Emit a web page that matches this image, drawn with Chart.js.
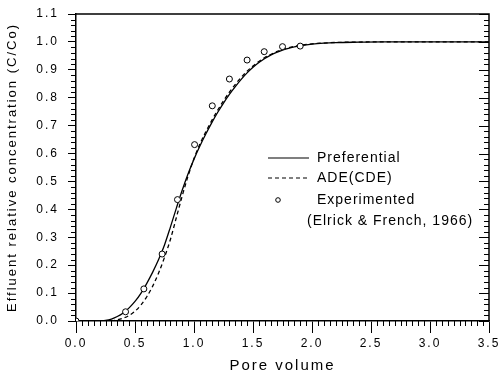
<!DOCTYPE html>
<html>
<head>
<meta charset="utf-8">
<script src="https://cdn.jsdelivr.net/npm/chart.js@4/dist/chart.umd.min.js"></script>
<style>
  html, body { margin: 0; padding: 0; background: #fff; }
  #wrap { width: 500px; height: 383px; }
</style>
</head>
<body>
<div id="wrap"><canvas id="grafico"></canvas></div>
<script>
// experimental points (Elrick & French, 1966)
const expX = [0, 0.42, 0.575, 0.73, 0.86, 1.005, 1.155, 1.30, 1.45, 1.595, 1.75, 1.90];
const expY = [0, 0.033, 0.115, 0.24, 0.435, 0.632, 0.771, 0.867, 0.935, 0.965, 0.983, 0.985];

// preferential flow model (solid)
const prefX = [0, 0.2, 0.25, 0.3, 0.35, 0.4, 0.45, 0.5, 0.55, 0.6, 0.65, 0.7, 0.75, 0.8, 0.85, 0.9, 0.95, 1.0,
               1.05, 1.1, 1.15, 1.2, 1.25, 1.3, 1.35, 1.4, 1.45, 1.5, 1.55, 1.6, 1.65, 1.7, 1.75, 1.8, 1.85, 1.9,
               2.0, 2.1, 2.2, 2.4, 2.6, 3.0, 3.5];
const prefY = [0, 0, 0.002, 0.007, 0.016, 0.029, 0.047, 0.070, 0.099, 0.135, 0.175, 0.220, 0.2725, 0.3365, 0.4035, 0.4685, 0.5275, 0.58,
               0.627, 0.670, 0.710, 0.747, 0.781, 0.812, 0.840, 0.866, 0.889, 0.909, 0.926, 0.9405, 0.9525, 0.9625, 0.9705, 0.977, 0.982, 0.986,
               0.992, 0.9955, 0.9975, 0.999, 1.0, 1.0, 1.0];

// ADE(CDE) model (dashed)
const adeX = [0, 0.25, 0.3, 0.35, 0.4, 0.45, 0.5, 0.55, 0.6, 0.65, 0.7, 0.75, 0.8, 0.85, 0.9, 0.95, 1.0,
              1.05, 1.1, 1.15, 1.2, 1.25, 1.3, 1.35, 1.4, 1.45, 1.5, 1.55, 1.6, 1.65, 1.7, 1.75, 1.8, 1.85, 1.9,
              2.0, 2.1, 2.2, 2.4, 2.6, 3.0, 3.5];
const adeY = [0, 0, 0.001, 0.004, 0.010, 0.020, 0.035, 0.057, 0.087, 0.125, 0.172, 0.228, 0.292, 0.37, 0.448, 0.52, 0.582,
              0.634, 0.678, 0.718, 0.755, 0.789, 0.82, 0.848, 0.873, 0.895, 0.914, 0.93, 0.944, 0.955, 0.965, 0.973, 0.979, 0.984, 0.988,
              0.993, 0.996, 0.998, 0.9995, 1.0, 1.0, 1.0];

const legendItems = ['Preferential', 'ADE(CDE)', 'Experimented', '(Elrick & French, 1966)'];

const FONT = "'Liberation Sans', Arial, sans-serif";

function pontos(xs, ys) {
    return xs.map((x, i) => ({ x: x, y: ys[i] }));
}

const extras = {
    id: 'extras',
    beforeLayout(chart) {
        chart.ctx.letterSpacing = '2px';
    },
    beforeDraw(chart) {
        chart.ctx.letterSpacing = '2px';
    },
    afterDraw(chart) {
        const ctx = chart.ctx;
        const xs = chart.scales.x;
        const ys = chart.scales.y;
        const a = chart.chartArea;
        ctx.save();
        ctx.strokeStyle = '#000';
        ctx.lineWidth = 1.5;
        // moldura de cima e da direita
        ctx.beginPath();
        ctx.moveTo(a.left, a.top);
        ctx.lineTo(a.right, a.top);
        ctx.lineTo(a.right, a.bottom);
        ctx.stroke();

        ctx.lineWidth = 1;
        ctx.beginPath();
        // x minor ticks, para fora
        for (let i = 0; i <= 70; i++) {
            if (i % 10 === 0) continue;
            const px = Math.round(xs.getPixelForValue(i * 0.05)) + 0.5;
            ctx.moveTo(px, a.bottom);
            ctx.lineTo(px, a.bottom + 5);
        }
        // y minor ticks: esquerda para fora, direita para dentro
        for (let i = 0; i <= 55; i++) {
            const py = Math.round(ys.getPixelForValue(i * 0.02)) + 0.5;
            const major = i % 5 === 0;
            if (!major) {
                ctx.moveTo(a.left, py);
                ctx.lineTo(a.left - 5, py);
            }
            ctx.moveTo(a.right, py);
            ctx.lineTo(a.right - (major ? 10 : 5), py);
        }
        ctx.stroke();

        // legenda
        ctx.letterSpacing = '1px';
        ctx.font = '14px ' + FONT;
        ctx.fillStyle = '#000';
        ctx.textBaseline = 'middle';
        ctx.lineWidth = 1.2;
        const rows = [158, 178, 200, 221];
        ctx.beginPath();
        ctx.moveTo(268, rows[0]);
        ctx.lineTo(309, rows[0]);
        ctx.stroke();
        ctx.setLineDash([4, 3]);
        ctx.beginPath();
        ctx.moveTo(268, rows[1]);
        ctx.lineTo(309, rows[1]);
        ctx.stroke();
        ctx.setLineDash([]);
        ctx.lineWidth = 1;
        ctx.beginPath();
        ctx.arc(278, rows[2], 2.3, 0, Math.PI * 2);
        ctx.stroke();
        ctx.fillText(legendItems[0], 317, rows[0]);
        ctx.fillText(legendItems[1], 317, rows[1]);
        ctx.fillText(legendItems[2], 317, rows[2]);
        ctx.fillText(legendItems[3], 307, rows[3]);
        ctx.restore();
    }
};

new Chart(document.getElementById('grafico'), {
    type: 'line',
    data: {
        datasets: [{
            label: legendItems[2],
            data: pontos(expX, expY),
            showLine: false,
            pointRadius: 3,
            pointBorderWidth: 1,
            pointBorderColor: '#000',
            pointBackgroundColor: '#fff',
            borderColor: '#000'
        }, {
            label: legendItems[0],
            data: pontos(prefX, prefY),
            borderColor: '#000',
            borderWidth: 1.3,
            pointRadius: 0,
            cubicInterpolationMode: 'monotone',
            fill: false
        }, {
            label: legendItems[1],
            data: pontos(adeX, adeY),
            borderColor: '#000',
            borderWidth: 1.3,
            borderDash: [4, 3],
            pointRadius: 0,
            cubicInterpolationMode: 'monotone',
            fill: false
        }]
    },
    options: {
        responsive: true,
        maintainAspectRatio: false,
        animation: false,
        devicePixelRatio: 1,
        layout: { padding: { top: 14, right: 11, left: 0, bottom: 0 } },
        plugins: { legend: { display: false }, tooltip: { enabled: false } },
        events: [],
        scales: {
            x: {
                type: 'linear',
                min: 0,
                max: 3.5,
                afterFit: s => { s.height = 62; s.paddingLeft = 0; s.paddingRight = 0; },
                ticks: {
                    stepSize: 0.5,
                    callback: v => v.toFixed(1),
                    color: '#000',
                    font: { family: FONT, size: 12 },
                    padding: 3,
                    maxRotation: 0
                },
                grid: { drawOnChartArea: false, drawTicks: true, tickLength: 12, color: '#000', lineWidth: 1 },
                border: { display: true, color: '#000', width: 1.5 },
                title: {
                    display: true,
                    text: 'Pore volume',
                    color: '#000',
                    font: { family: FONT, size: 15 },
                    padding: { top: 4, bottom: 8 }
                }
            },
            y: {
                min: 0,
                max: 1.1,
                afterFit: s => { s.width = 76; s.paddingTop = 0; s.paddingBottom = 0; },
                ticks: {
                    stepSize: 0.1,
                    callback: v => v.toFixed(1),
                    color: '#000',
                    font: { family: FONT, size: 12 },
                    padding: 9
                },
                grid: { drawOnChartArea: false, drawTicks: true, tickLength: 8, color: '#000', lineWidth: 1 },
                border: { display: true, color: '#000', width: 1.5 },
                title: {
                    display: true,
                    text: 'Effluent relative concentration (C/Co)',
                    color: '#000',
                    font: { family: FONT, size: 13 },
                    padding: { top: 5, bottom: 4 }
                }
            }
        }
    },
    plugins: [extras]
});
</script>
</body>
</html>
